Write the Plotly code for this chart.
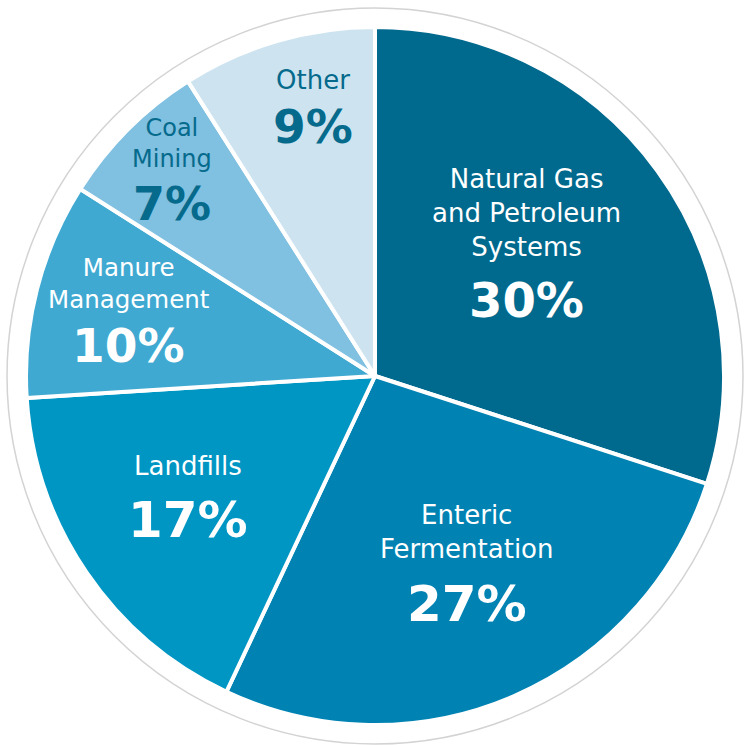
import math
import plotly.graph_objects as go

# ---- data ----
categories = ["Natural Gas<br>and Petroleum<br>Systems", "Enteric<br>Fermentation", "Landfills",
              "Manure<br>Management", "Coal<br>Mining", "Other"]
values = [30, 27, 17, 10, 7, 9]
pct_labels = ["30%", "27%", "17%", "10%", "7%", "9%"]

# ---- style ----
colors = ["#006A8E", "#0083B3", "#0096C4", "#3FA9D2", "#80C0E0", "#CDE4F0"]
text_colors = ["white", "white", "white", "white", "#056A8C", "#056A8C"]
label_frac = [0.531, 0.622, 0.626, 0.723, 0.813, 0.81]   # radial position of split point
label_dtheta = [-1.1, 1.6, -3.1, 1.6, 0.7, -3.5]          # angular nudge (deg)
label_size = [26, 26, 26, 24.5, 24, 26]
pct_size = [48, 50, 50, 47, 46, 47]
label_yshift = [6, 7, 6, 4, 3, 3]
pct_yshift = [0, 0, 0, 4, 3, 3]

W, H = 747, 745
cx, cy, r = 375, 376, 349
font_family = "'DejaVu Sans', sans-serif"

fig = go.Figure(go.Pie(
    labels=[c.replace("<br>", " ") for c in categories],
    values=values,
    sort=False,
    direction="clockwise",
    rotation=0,
    marker=dict(colors=colors, line=dict(color="white", width=4)),
    textinfo="none",
    hoverinfo="label+percent",
    showlegend=False,
    domain=dict(x=[(cx - r) / W, (cx + r) / W], y=[(H - cy - r) / H, (H - cy + r) / H]),
))

annotations = []
total = sum(values)
cum = 0
for i, v in enumerate(values):
    mid = (cum + v / 2) / total * 360
    cum += v
    theta = math.radians(90 - mid + label_dtheta[i])
    px = cx + label_frac[i] * r * math.cos(theta)
    py = cy - label_frac[i] * r * math.sin(theta)
    ax, ay = px / W, 1 - py / H
    annotations.append(dict(x=ax, y=ay, xref="paper", yref="paper", text=categories[i],
                            showarrow=False, xanchor="center", yanchor="bottom", yshift=label_yshift[i],
                            font=dict(family=font_family, size=label_size[i], color=text_colors[i])))
    annotations.append(dict(x=ax, y=ay, xref="paper", yref="paper", text="<b>" + pct_labels[i] + "</b>",
                            showarrow=False, xanchor="center", yanchor="top", yshift=pct_yshift[i],
                            font=dict(family=font_family, size=pct_size[i], color=text_colors[i])))

ring = 368
fig.update_layout(
    width=W, height=H,
    margin=dict(l=0, r=0, t=0, b=0),
    paper_bgcolor="white", plot_bgcolor="white",
    annotations=annotations,
    shapes=[dict(type="circle", xref="paper", yref="paper",
                 x0=(cx - ring) / W, x1=(cx + ring) / W,
                 y0=(H - cy - ring) / H, y1=(H - cy + ring) / H,
                 line=dict(color="#D3D3D3", width=1.5), layer="below")],
)

fig.write_html("out.html", config={"displayModeBar": False},
               post_script="document.body.style.margin='0';document.body.style.overflow='hidden';")
